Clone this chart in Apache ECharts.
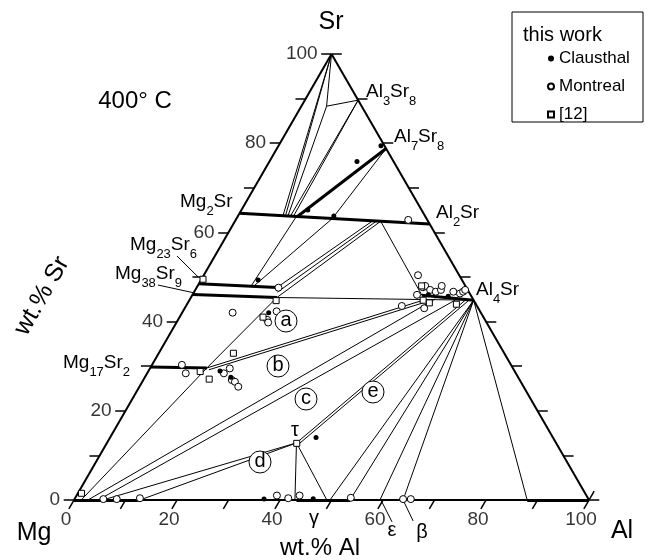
<!DOCTYPE html>
<html><head><meta charset="utf-8">
<script src="https://cdn.jsdelivr.net/npm/echarts@6/dist/echarts.min.js"></script>
<style>html,body{margin:0;padding:0;background:#fff}#c{width:651px;height:560px}</style>
</head><body><div id="c"></div>
<script>
// All compositions are [wt.% Al, wt.% Sr]  (Mg = balance)
const edges = [[[0,0],[100,0]],[[100,0],[0,100]],[[0,100],[0,0]]];

const thickLines = [
  [[0,64.3],[38.1,61.9]],      // Mg2Sr - Al2Sr
  [[0,48.5],[15.6,47.65]],     // Mg23Sr6 ss
  [[0,46.06],[16.7,45.4]],     // Mg38Sr9 ss
  [[0,29.8],[11.0,29.6]],      // Mg17Sr2 ss
  [[44.6,45.9],[55.2,44.8]],   // Al4Sr ss
  [[21.2,78.8],[11.6,63.57]],  // Al7Sr8 - Mg2Sr
  [[0,0],[12.8,0]],            // (Mg)
  [[43.2,0],[53.6,0]],         // gamma
  [[88,0],[100,0]]             // (Al)
];

const thinLines = [
  [[0,100],[4.9,88.3]],
  [[4.9,88.3],[10.35,89.65]],
  [[0,100],[8.7,63.75]],
  [[0,100],[9.2,63.72]],
  [[4.9,88.3],[9.7,63.69]],
  [[10.35,89.65],[10.2,63.66]],
  [[10.35,89.65],[10.8,63.62]],
  [[21.2,78.8],[18.6,63.1]],
  [[11.4,63.58],[10.4,47.93]],
  [[18.6,63.1],[10.9,47.9]],
  [[26.7,62.6],[15.6,47.65]],
  [[27.5,62.57],[16.2,46.6]],
  [[28.3,62.5],[16.7,45.4]],
  [[28.3,62.5],[44.6,45.9]],
  [[16.7,45.4],[55.2,44.8]],
  [[11.0,29.6],[16.7,45.4]],
  [[1.4,0],[11.0,29.6]],
  [[11.0,29.6],[45.4,44.8]],
  [[11.6,29.2],[45.9,44.3]],
  [[2.7,0],[47.6,45.1]],
  [[4.7,0],[51.6,44.8]],
  [[36.8,12.8],[53.6,44.85]],
  [[37.4,12.6],[54.2,44.6]],
  [[5.6,0],[36.8,12.8]],
  [[12.8,0],[36.8,12.8]],
  [[36.8,12.8],[42.9,0]],
  [[36.8,12.8],[49.1,0]],
  [[55.2,44.8],[49.7,0]],
  [[55.2,44.8],[53.6,0]],
  [[55.2,44.8],[59.4,0]],
  [[55.2,44.8],[63.9,0]],
  [[55.2,44.8],[88.0,0]]
];

const leaderLines = [
  [[-7.35,54.7],[-0.9,50.0]],
  [[-7.8,48.2],[0.3,46.4]],
  [[59.6,0],[64.2,-4.9]],
  [[63.9,0],[68.2,-4.7]]
];

const clausthal = [
  [17.0,75.9],[19.9,79.4],[12.9,65.0],[18.6,63.7],[11.1,49.3],[16.8,42.0],
  [13.9,28.9],[16.7,27.5],[40.0,14.0],[45.8,46.0],[49.8,45.7],[36.8,0.2],[46.3,0.3]
];
const montreal = [
  [33.5,62.8],[41.6,50.4],[43.6,46.0],[43.9,47.7],[44.2,48.0],[45.6,47.1],[46.9,46.7],
  [47.7,47.1],[47.4,48.0],[50.3,46.7],[51.8,46.3],[52.2,46.7],[52.4,47.1],[46.5,43.0],
  [41.9,43.5],[15.9,47.6],[9.8,42.0],[18.2,42.3],[17.3,40.4],[17.8,39.8],[7.5,28.4],
  [5.8,30.3],[15.5,29.5],[14.9,28.4],[17.2,26.9],[18.0,26.5],[19.2,25.4],
  [38.9,1.0],[41.4,0.4],[43.3,1.0],[53.5,0.5],[63.8,0.2],[65.3,0.2],[5.6,0.2],[8.2,0.2],[12.6,0.4]
];
const ref12 = [
  [16.9,44.7],[0.3,49.5],[16.2,41.0],[14.5,32.9],[10.1,28.8],[12.7,27.1],[43.5,48.0],
  [45.4,44.8],[46.9,44.2],[52.3,43.9],[0.7,1.5],[36.9,12.7]
];

const tickValues = [0,10,20,30,40,50,60,70,80,90,100];
const tickLabels = [0,20,40,60,80,100];

const H = Math.sqrt(3)/2;
const toXY = p => [p[0] + p[1]/2, p[1]*H];
const PX = 5.15; // px per unit
const FONT = '"Liberation Sans", Arial, Helvetica, sans-serif';

const ticks = [];
tickValues.forEach(v => {
  ticks.push([[v,0],[v,-2]]);               // Al axis (bottom)
  ticks.push([[0,v],[-2,v]]);               // Sr axis (left)
  ticks.push([[100-v,v],[102-v,v]]);        // right side
});
ticks.push([[100,0],[100,2]]);

function linesSeries(list, width, z) {
  return {type:'lines', coordinateSystem:'cartesian2d', silent:true, z:z,
    lineStyle:{color:'#000', width:width, opacity:1},
    data: list.map(l => ({coords: l.map(toXY)}))};
}

const RICH = {
  m:{fontSize:19, fontFamily:FONT, lineHeight:22, fill:'#000'},
  s:{fontSize:13, fontFamily:FONT, lineHeight:15, padding:[18,0,0,0], fill:'#000'}
};
function chem(txt, x, y) {
  return {type:'text', x:x, y:y, z:100, silent:true,
    style:{text:txt, rich:RICH, align:'left', verticalAlign:'middle', fill:'#000', font:'19px '+FONT}};
}
function plain(txt, x, y, size, rot) {
  return {type:'text', x:x, y:y, z:100, silent:true, rotation: rot||0,
    style:{text:txt, align:'center', verticalAlign:'middle', fill:'#000', font: size+'px '+FONT}};
}
function circled(ch, x, y) {
  return {type:'group', z:100, children:[
    {type:'circle', shape:{cx:x, cy:y, r:11}, style:{fill:'#fff', stroke:'#000', lineWidth:1}, z:100},
    {type:'text', x:x, y:y-1, z:101, style:{text:ch, align:'center', verticalAlign:'middle', fill:'#000', font:'20px '+FONT}}
  ]};
}

const chart = echarts.init(document.getElementById('c'), null, {renderer:'canvas'});
chart.setOption({
  animation:false,
  backgroundColor:'#fff',
  grid:{left:0,right:0,top:0,bottom:0},
  xAxis:{type:'value', min:-74/PX, max:577/PX, show:false},
  yAxis:{type:'value', min:-60/PX, max:500/PX, show:false},
  legend:{
    orient:'vertical', left:542, top:45, itemWidth:6, itemHeight:6, itemGap:11,
    selectedMode:false,
    textStyle:{fontSize:17, fontFamily:FONT, color:'#000'},
    data:['Clausthal','Montreal','[12]']
  },
  series:[
    linesSeries(thinLines, 1, 2),
    linesSeries(leaderLines, 1, 2),
    linesSeries(ticks, 1.5, 2),
    linesSeries(thickLines, 3, 3),
    linesSeries(edges, 2, 3),
    {type:'scatter', name:'Montreal', symbol:'circle', symbolSize:7, z:5,
      itemStyle:{color:'#fff', borderColor:'#000', borderWidth:1, opacity:1},
      data: montreal.map(toXY)},
    {type:'scatter', name:'[12]', symbol:'rect', symbolSize:6, z:5,
      itemStyle:{color:'#fff', borderColor:'#000', borderWidth:1, opacity:1},
      data: ref12.map(toXY)},
    {type:'scatter', name:'Clausthal', symbol:'circle', symbolSize:5, z:6,
      itemStyle:{color:'#000', opacity:1},
      data: clausthal.map(toXY)},
    {type:'scatter', silent:true, symbolSize:0.1, itemStyle:{color:'rgba(0,0,0,0)'},
      label:{show:true, position:'left', distance:3.5, formatter:'{b}', color:'#000', fontSize:19, fontFamily:FONT},
      data: tickLabels.map(v => ({name:String(v), value: toXY([-2, v])}))},
    {type:'scatter', silent:true, symbolSize:0.1, itemStyle:{color:'rgba(0,0,0,0)'},
      label:{show:true, position:'inside', formatter:'{b}', color:'#000', fontSize:19, fontFamily:FONT},
      data: tickLabels.map(v => ({name:String(v), value: toXY([v+0.7, -4.5])}))}
  ],
  graphic:[
    {type:'rect', z:100, shape:{x:512, y:12, width:131, height:110}, style:{fill:'none', stroke:'#000', lineWidth:1}},
    {type:'text', x:523, y:35, z:100, style:{text:'this work', align:'left', verticalAlign:'middle', fill:'#000', font:'20px '+FONT}},
    plain('Sr', 331, 22, 25),
    plain('Mg', 34, 533, 25),
    plain('Al', 622, 531, 25),
    plain('wt.% Al', 320, 548, 24),
    plain('wt.% Sr', 42, 296, 25, Math.PI/3),
    plain('400° C', 135, 101, 24),
    plain('τ', 295, 430, 20),
    plain('γ', 314, 518, 20),
    plain('ε', 392, 530, 20),
    plain('β', 422, 532, 20),
    chem('{m|Mg}{s|2}{m|Sr}', 180, 202),
    chem('{m|Mg}{s|23}{m|Sr}{s|6}', 130, 245),
    chem('{m|Mg}{s|38}{m|Sr}{s|9}', 115, 274),
    chem('{m|Mg}{s|17}{m|Sr}{s|2}', 63, 363),
    chem('{m|Al}{s|2}{m|Sr}', 436, 213),
    chem('{m|Al}{s|4}{m|Sr}', 476, 290),
    chem('{m|Al}{s|3}{m|Sr}{s|8}', 366, 92),
    chem('{m|Al}{s|7}{m|Sr}{s|8}', 394, 137),
    circled('a', 286, 321),
    circled('b', 278, 366),
    circled('c', 306, 399),
    circled('d', 260, 462),
    circled('e', 373, 392)
  ]
});
</script></body></html>
